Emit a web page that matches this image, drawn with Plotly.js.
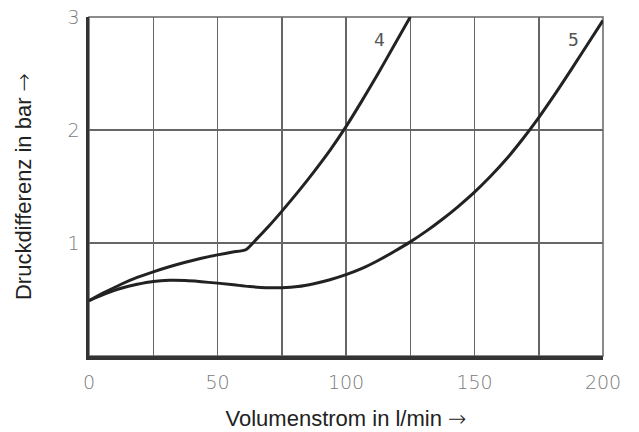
<!DOCTYPE html>
<html>
<head>
<meta charset="utf-8">
<script src="https://cdn.plot.ly/plotly-3.0.1.min.js"></script>
<style>html,body{margin:0;padding:0;background:#fff;}#chart{width:639px;height:432px;}</style>
</head>
<body>
<div id="chart"></div>
<script>
// Curve 4
const x4 = [0, 6.25, 12.5, 18.75, 25, 31.25, 37.5, 43.75, 50, 56, 61, 65, 70, 75, 81.25, 87.5, 93.75, 100, 106.25, 112.5, 118.75, 125];
const y4 = [0.49, 0.565, 0.635, 0.695, 0.745, 0.79, 0.83, 0.865, 0.895, 0.92, 0.94, 1.03, 1.15, 1.28, 1.45, 1.63, 1.82, 2.03, 2.26, 2.50, 2.75, 3.0];
// Curve 5
const x5 = [0, 6.25, 12.5, 18.75, 25, 31.25, 37.5, 43.75, 50, 56.25, 62.5, 68.75, 75, 81.25, 87.5, 93.75, 100, 106.25, 112.5, 118.75, 125, 131.25, 137.5, 143.75, 150, 156.25, 162.5, 168.75, 175, 181.25, 187.5, 193.75, 200];
const y5 = [0.49, 0.55, 0.60, 0.635, 0.66, 0.67, 0.668, 0.658, 0.645, 0.63, 0.615, 0.605, 0.605, 0.615, 0.64, 0.675, 0.72, 0.775, 0.845, 0.925, 1.01, 1.105, 1.21, 1.325, 1.45, 1.59, 1.745, 1.92, 2.11, 2.315, 2.53, 2.75, 2.97];
// Curve labels
const curveLabels = ["4", "5"];
const labelX = [113, 188.5];
const labelY = [2.8, 2.8];
const xTickVals = [0, 50, 100, 150, 200];
const yTickVals = [1, 2, 3];

const traces = [
  {x: x4, y: y4, mode: 'lines', line: {color: '#222', width: 3, shape: 'spline', smoothing: 0.6}, hoverinfo: 'skip'},
  {x: x5, y: y5, mode: 'lines', line: {color: '#222', width: 3, shape: 'spline', smoothing: 1}, hoverinfo: 'skip'}
];

const tickFont = {family: 'DejaVu Sans', size: 19, color: '#7a7a7a', weight: 200};
const titleFont = {family: 'Liberation Sans, Arial, sans-serif', size: 22, color: '#222'};
const arrow = '<span style="font-family:DejaVu Sans;font-weight:200">\u2192</span>';

const layout = {
  width: 639, height: 432,
  margin: {l: 89, r: 36, t: 17, b: 76, pad: 0},
  paper_bgcolor: '#fff', plot_bgcolor: '#fff',
  showlegend: false,
  xaxis: {
    range: [0, 200], tickvals: xTickVals,
    showgrid: true, gridcolor: '#666', gridwidth: 1.5,
    minor: {dtick: 25, showgrid: true, gridcolor: '#666', gridwidth: 1.5, ticks: ''},
    showline: true, linecolor: '#333', linewidth: 3.5,
    zeroline: false, ticks: '', ticklabelstandoff: 7,
    tickfont: tickFont,
    title: {text: 'Volumenstrom in l/min ' + arrow, font: titleFont, standoff: 19}
  },
  yaxis: {
    range: [0, 3], tickvals: yTickVals,
    showgrid: true, gridcolor: '#666', gridwidth: 1.5,
    showline: true, linecolor: '#333', linewidth: 3.5,
    zeroline: false, ticks: '', ticklabelstandoff: 2,
    tickfont: tickFont,
    title: {text: 'Druckdifferenz in bar ' + arrow, font: titleFont, standoff: 31}
  },
  shapes: [
    {type: 'rect', xref: 'paper', yref: 'paper', x0: 0, x1: 1, y0: 0, y1: 1,
     line: {color: '#666', width: 1.5}, layer: 'below'}
  ],
  annotations: curveLabels.map((t, i) => ({
    x: labelX[i], y: labelY[i], xref: 'x', yref: 'y', text: t, showarrow: false,
    font: {family: 'DejaVu Sans Mono', size: 18, color: '#555'}
  }))
};

Plotly.newPlot('chart', traces, layout, {displayModeBar: false, staticPlot: true});
</script>
</body>
</html>
